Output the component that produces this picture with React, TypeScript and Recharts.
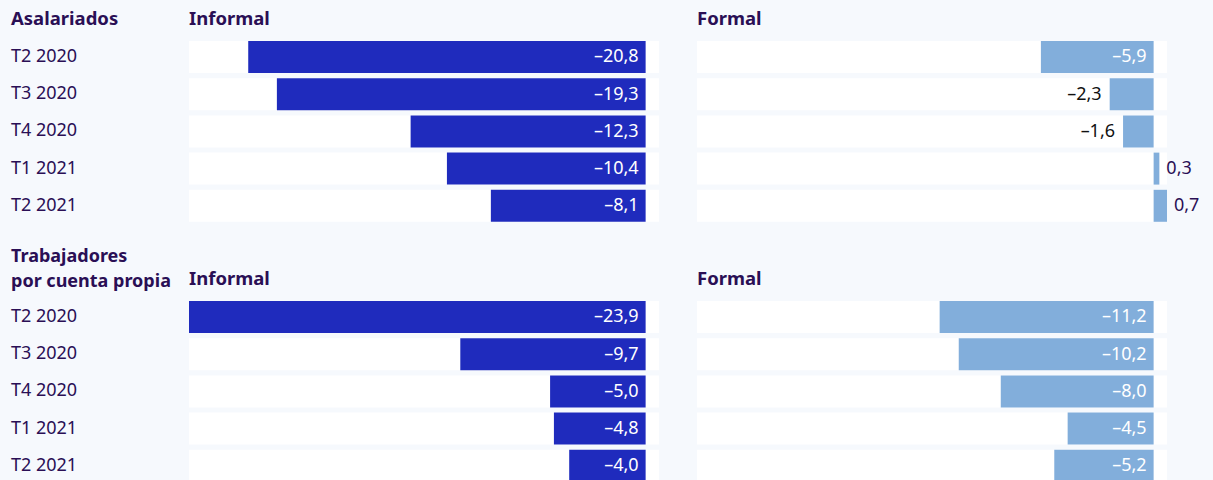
import { BarChart, Bar, XAxis, YAxis, LabelList } from 'recharts';

const categories = ['T2 2020', 'T3 2020', 'T4 2020', 'T1 2021', 'T2 2021'];
const asalariadosInformal = [-20.8, -19.3, -12.3, -10.4, -8.1];
const asalariadosFormal = [-5.9, -2.3, -1.6, 0.3, 0.7];
const propiaInformal = [-23.9, -9.7, -5.0, -4.8, -4.0];
const propiaFormal = [-11.2, -10.2, -8.0, -4.5, -5.2];

const DOMAIN: [number, number] = [-23.9, 0.7];
const DARK = '#1f2bbd';
const LIGHT = '#82aedb';
const TEXT = '#2a0f55';
const FONT = '"Noto Sans", sans-serif';

const fmt = (v: number) => (v < 0 ? '–' : '') + Math.abs(v).toFixed(1).replace('.', ',');

function ValueLabel(props: any) {
  const { x, y, width, height, value } = props;
  const left = Math.min(x, x + width);
  const right = Math.max(x, x + width);
  const w = right - left;
  const cy = y + height / 2;
  let tx = right + 7;
  let anchor = 'start';
  let fill = TEXT;
  if (value < 0 && w > 55) {
    tx = right - 7;
    anchor = 'end';
    fill = '#ffffff';
  } else if (value < 0) {
    tx = left - 8;
    anchor = 'end';
    fill = '#111111';
  }
  return (
    <text x={tx} y={cy} dy="0.3em" textAnchor={anchor} fill={fill} fontSize={18} fontFamily={FONT}>
      {fmt(value)}
    </text>
  );
}

function CatTick(props: any) {
  const { y, payload } = props;
  return (
    <text x={11} y={y} dy="0.3em" textAnchor="start" fill={TEXT} fontSize={18} fontFamily={FONT}>
      {payload.value}
    </text>
  );
}

function Panel({ values, color, withAxis }: { values: number[]; color: string; withAxis: boolean }) {
  const data = categories.map((cat, i) => ({ cat, v: values[i] }));
  return (
    <BarChart
      width={withAxis ? 659 : 520}
      height={186}
      data={data}
      layout="vertical"
      margin={{ top: 0, right: withAxis ? 0 : 50, bottom: 0, left: 0 }}
      barCategoryGap={0}
    >
      <XAxis type="number" domain={DOMAIN} hide allowDataOverflow />
      <YAxis
        type="category"
        dataKey="cat"
        hide={!withAxis}
        width={withAxis ? 189 : 0}
        axisLine={false}
        tickLine={false}
        tick={<CatTick />}
      />
      <Bar dataKey="v" fill={color} barSize={32} background={{ fill: '#ffffff' }} isAnimationActive={false}>
        <LabelList dataKey="v" content={<ValueLabel />} />
      </Bar>
    </BarChart>
  );
}

const head: React.CSSProperties = {
  position: 'absolute',
  fontWeight: 700,
  fontSize: 18.5,
  lineHeight: '22px',
  color: TEXT,
  whiteSpace: 'nowrap',
};

export default function App() {
  return (
    <div
      style={{
        position: 'absolute',
        left: 0,
        top: 0,
        width: 1213,
        height: 480,
        overflow: 'hidden',
        background: '#f6f9fd',
        fontFamily: FONT,
      }}
    >
      <div style={{ ...head, left: 11, top: 7 }}>Asalariados</div>
      <div style={{ ...head, left: 189, top: 7 }}>Informal</div>
      <div style={{ ...head, left: 697, top: 7 }}>Formal</div>

      <div style={{ ...head, left: 11, top: 243, fontSize: 18, lineHeight: '24.5px' }}>
        Trabajadores
        <br />
        por cuenta propia
      </div>
      <div style={{ ...head, left: 189, top: 267 }}>Informal</div>
      <div style={{ ...head, left: 697, top: 267 }}>Formal</div>

      <div style={{ position: 'absolute', left: 0, top: 38 }}>
        <Panel values={asalariadosInformal} color={DARK} withAxis />
      </div>
      <div style={{ position: 'absolute', left: 697, top: 38 }}>
        <Panel values={asalariadosFormal} color={LIGHT} withAxis={false} />
      </div>
      <div style={{ position: 'absolute', left: 0, top: 298 }}>
        <Panel values={propiaInformal} color={DARK} withAxis />
      </div>
      <div style={{ position: 'absolute', left: 697, top: 298 }}>
        <Panel values={propiaFormal} color={LIGHT} withAxis={false} />
      </div>
    </div>
  );
}
